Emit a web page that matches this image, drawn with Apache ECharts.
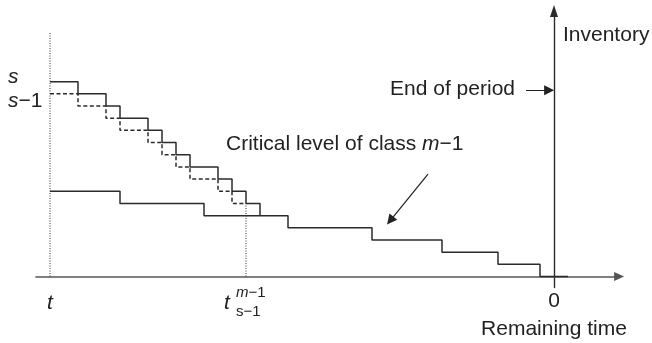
<!DOCTYPE html>
<html>
<head>
<meta charset="utf-8">
<script src="https://cdn.jsdelivr.net/npm/echarts@6/dist/echarts.min.js"></script>
<style>
html, body { margin: 0; padding: 0; background: #fff; }
#main { width: 652px; height: 343px; }
</style>
</head>
<body>
<div id="main"></div>
<script>
// x = remaining time (t = 36, end of period = 0), y = inventory level
const levelS = [[36, 16], [34, 15], [32, 14], [31, 13], [29, 12], [28, 11], [27, 10], [26, 9], [24, 8], [23, 7], [22, 6], [21, 5]]
const levelS1 = [[36, 15], [34, 14], [32, 13], [31, 12], [29, 11], [28, 10], [27, 9], [26, 8], [24, 7], [23, 6], [22, 6]]
const criticalLevel = [[36, 7], [31, 6], [25, 5], [19, 4], [13, 3], [8, 2], [4, 1], [1, 0], [-1, 0]]
const tStart = 36
const tSwitch = 22
const sLevel = 16
const tLineTop = 20
const endArrow = [[2, 15.3], [0.35, 15.3]]
const criticalArrow = [[9, 8.4], [11.7, 4.6]]

const FONT = '"Liberation Sans", Arial, sans-serif'
const INK = '#222'
const LINE = '#2b2b2b'

const chart = echarts.init(document.getElementById('main'))

const stepLine = (data, type) => ({
  type: 'line',
  step: 'end',
  data: data,
  showSymbol: false,
  silent: true,
  lineStyle: { color: LINE, width: 1.5, type: type }
})

const dotted = (x, top) => ({
  type: 'line',
  data: [[x, 0], [x, top]],
  showSymbol: false,
  silent: true,
  lineStyle: { color: '#333', width: 1, type: [1, 1.5] }
})

const arrow = coords => ({
  type: 'lines',
  coordinateSystem: 'cartesian2d',
  silent: true,
  symbol: ['none', 'triangle'],
  symbolSize: [7, 10],
  lineStyle: { color: '#222', width: 1.2, opacity: 1 },
  data: [{ coords: coords }]
})

chart.setOption({
  animation: false,
  grid: { left: 36, right: 32.9, top: 11, bottom: 55.5 },
  xAxis: {
    type: 'value',
    inverse: true,
    min: -4.65,
    max: 37,
    axisLine: {
      onZero: true,
      symbol: ['none', 'triangle'],
      symbolSize: [9, 10],
      lineStyle: { color: '#555', width: 1.6 }
    },
    axisTick: { show: false },
    axisLabel: { show: false },
    splitLine: { show: false }
  },
  yAxis: {
    type: 'value',
    min: -0.9,
    max: 21.8,
    axisLine: {
      onZero: true,
      symbol: ['none', 'triangle'],
      symbolSize: [8, 12],
      lineStyle: { color: LINE, width: 1.4 }
    },
    axisTick: { show: false },
    axisLabel: { show: false },
    splitLine: { show: false }
  },
  series: [
    dotted(tStart, tLineTop),
    dotted(tSwitch, 6),
    stepLine(criticalLevel, 'solid'),
    stepLine(levelS, 'solid'),
    stepLine(levelS1, [4, 2.5]),
    arrow(endArrow),
    arrow(criticalArrow)
  ]
})

// annotations anchored to the chart's own scales
const px = (x, y) => chart.convertToPixel({ xAxisIndex: 0, yAxisIndex: 0 }, [x, y])
const origin = px(0, 0)
const pT = px(tStart, 0)
const pSw = px(tSwitch, 0)
const pS = px(tStart, sLevel)
const pS1 = px(tStart, sLevel - 1)
const pEnd = px(endArrow[0][0], endArrow[0][1])

const text = (x, y, str, opts) => Object.assign({
  type: 'text',
  x: x,
  y: y,
  silent: true,
  style: Object.assign({
    text: str,
    fill: INK,
    fontSize: 21,
    fontFamily: FONT,
    align: 'left',
    verticalAlign: 'middle'
  }, opts || {})
})

const rich = {
  n: { fontSize: 21, fontFamily: FONT, fill: INK },
  i: { fontSize: 21, fontFamily: FONT, fill: INK, fontStyle: 'italic' }
}
const small = {
  n: { fontSize: 15, fontFamily: FONT, fill: INK },
  i: { fontSize: 15, fontFamily: FONT, fill: INK, fontStyle: 'italic' }
}

chart.setOption({
  graphic: [
    text(origin[0] + 9, 35.5, 'Inventory'),
    text(pEnd[0] - 11, pEnd[1] - 0.5, 'End of period', { align: 'right' }),
    text(226, 144.5, '{n|Critical level of class }{i|m}{n|−1}', { rich: rich }),
    text(pT[0] - 42, pS[1] - 4.5, 's', { fontStyle: 'italic' }),
    text(pT[0] - 42, pS1[1] + 7.7, '{i|s}{n|−1}', { rich: rich }),
    text(pT[0], pT[1] + 26.5, 't', { fontStyle: 'italic', align: 'center' }),
    text(pSw[0] - 22, pSw[1] + 26.5, 't', { fontStyle: 'italic' }),
    text(pSw[0] - 10, pSw[1] + 16.5, '{i|m}{n|−1}', { rich: small }),
    text(pSw[0] - 10, pSw[1] + 35, 's−1', { fontSize: 15 }),
    text(origin[0], origin[1] + 24.5, '0', { align: 'center' }),
    text(origin[0], origin[1] + 52.5, 'Remaining time', { align: 'center' })
  ]
})
</script>
</body>
</html>
